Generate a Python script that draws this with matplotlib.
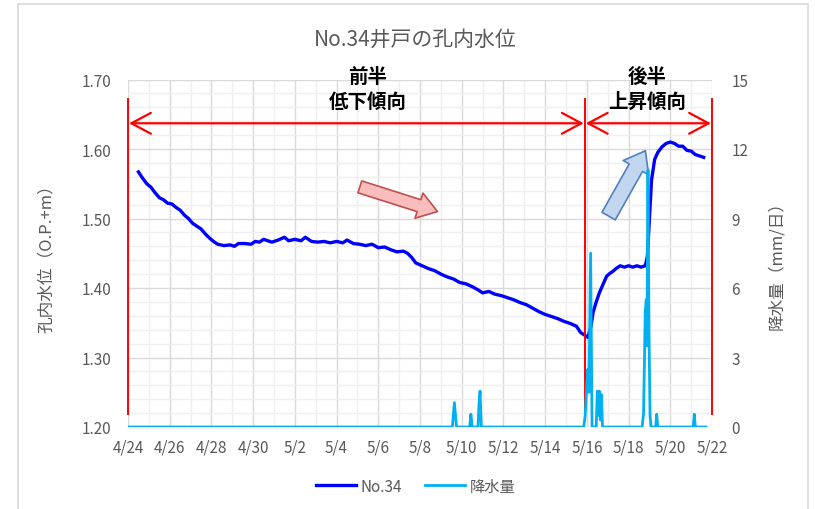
import matplotlib
matplotlib.use("Agg")
import matplotlib.pyplot as plt
from matplotlib.patches import FancyArrowPatch, Rectangle
from matplotlib.ticker import MultipleLocator

plt.rcParams['font.family'] = ['Noto Sans CJK JP', 'DejaVu Sans']

# x軸: 4/24 からの経過日数
tick_days = list(range(0, 29, 2))
tick_labels = ['4/24', '4/26', '4/28', '4/30', '5/2', '5/4', '5/6', '5/8',
               '5/10', '5/12', '5/14', '5/16', '5/18', '5/20', '5/22']

# 孔内水位 No.34 (O.P.+m)
level_days = [0.5, 0.7, 0.9, 1.1, 1.3, 1.5, 1.7, 1.9, 2.1, 2.3, 2.5, 2.7, 2.9,
              3.1, 3.3, 3.5, 3.7, 3.9, 4.1, 4.3, 4.6, 4.9, 5.1, 5.3, 5.6, 5.9,
              6.1, 6.3, 6.5, 6.7, 6.9, 7.2, 7.5, 7.7, 8.0, 8.3, 8.5, 8.8, 9.1,
              9.4, 9.7, 10.0, 10.3, 10.5, 10.8, 11.1, 11.4, 11.7, 12.0, 12.3,
              12.6, 12.9, 13.2, 13.4, 13.6, 13.8, 14.1, 14.4, 14.7, 15.0, 15.3,
              15.6, 15.9, 16.2, 16.5, 16.8, 17.0, 17.3, 17.6, 17.9, 18.2, 18.5,
              18.8, 19.1, 19.4, 19.7, 20.0, 20.3, 20.6, 20.9, 21.2, 21.5, 21.7,
              21.9, 22.05, 22.2, 22.3, 22.45, 22.6, 22.8, 22.95, 23.1, 23.25,
              23.4, 23.6, 23.8, 24.0, 24.2, 24.4, 24.6, 24.8, 24.9, 25.0, 25.1,
              25.25, 25.4, 25.6, 25.8, 26.0, 26.2, 26.4, 26.6, 26.8, 27.0, 27.2,
              27.4, 27.6]
level = [1.567, 1.558, 1.550, 1.545, 1.537, 1.530, 1.527, 1.522, 1.521, 1.516,
         1.512, 1.505, 1.500, 1.493, 1.489, 1.485, 1.478, 1.472, 1.467, 1.463,
         1.461, 1.462, 1.460, 1.464, 1.464, 1.463, 1.467, 1.466, 1.470, 1.468,
         1.466, 1.469, 1.473, 1.468, 1.470, 1.468, 1.473, 1.467, 1.466, 1.467,
         1.465, 1.467, 1.465, 1.469, 1.464, 1.463, 1.461, 1.463, 1.458, 1.459,
         1.455, 1.452, 1.453, 1.450, 1.444, 1.436, 1.432, 1.428, 1.425, 1.420,
         1.416, 1.413, 1.408, 1.406, 1.402, 1.397, 1.393, 1.395, 1.391, 1.389,
         1.386, 1.383, 1.379, 1.376, 1.371, 1.366, 1.362, 1.359, 1.356, 1.352,
         1.349, 1.345, 1.336, 1.332, 1.329, 1.345, 1.365, 1.380, 1.393, 1.407,
         1.417, 1.421, 1.424, 1.428, 1.432, 1.430, 1.432, 1.430, 1.432, 1.430,
         1.432, 1.445, 1.500, 1.555, 1.585, 1.595, 1.603, 1.608, 1.610, 1.608,
         1.604, 1.604, 1.598, 1.597, 1.592, 1.590, 1.588]

# 降水量 (mm/日)
rain_days = [0, 15.55, 15.65, 15.75, 16.38, 16.44, 16.5, 16.78, 16.83, 16.88,
             16.94, 21.85, 21.92, 22.0, 22.05, 22.1, 22.18, 22.25, 22.45, 22.5,
             22.55, 22.6, 22.65, 22.7, 22.75, 24.65, 24.72, 24.8, 24.85, 24.88,
             24.93, 24.98, 25.03, 25.08, 25.3, 25.35, 25.4, 27.1, 27.15, 27.2,
             27.7]
rain = [0, 0, 1.05, 0, 0, 0.55, 0, 0, 1.0, 1.55, 0, 0, 0.5, 1.9, 2.5, 1.5, 7.5,
        0, 0, 1.55, 0.5, 1.55, 0.3, 1.4, 0, 0, 0.6, 5.0, 5.5, 3.5, 11.1, 4.0,
        0.5, 0, 0, 0.55, 0, 0, 0.55, 0, 0]

gray = '#595959'
fig = plt.figure(figsize=(8.15, 5.10), dpi=100)
fig.patches.append(Rectangle((18 / 815, -0.01), 790 / 815, 1 - 5 / 510 + 0.01,
                             transform=fig.transFigure, fill=False,
                             edgecolor='#D9D9D9', lw=1.2))

ax = fig.add_axes([128 / 815, 1 - 428 / 510, 584 / 815, 347.5 / 510])
ax.set_xlim(0, 28)
ax.set_ylim(1.20, 1.70)
ax.set_xticks(tick_days)
ax.set_xticklabels(tick_labels)
ax.xaxis.set_minor_locator(MultipleLocator(1))
ax.yaxis.set_major_locator(MultipleLocator(0.1))
ax.yaxis.set_minor_locator(MultipleLocator(0.02))
ax.yaxis.set_major_formatter(plt.FormatStrFormatter('%.2f'))
ax.grid(which='major', color='#D9D9D9', lw=1.0)
ax.grid(which='minor', color='#EFEFEF', lw=1.0)
ax.set_axisbelow(True)
ax.tick_params(which='both', length=0, colors=gray, labelsize=11)
ax.tick_params(axis='x', pad=8)
ax.tick_params(axis='y', pad=12)
for s in ax.spines.values():
    s.set_visible(False)

line1, = ax.plot(level_days, level, color='#0000FF', lw=2.4, label='No.34')
ax.set_ylabel('孔内水位（O.P.+m）', color=gray, fontsize=12)
ax.yaxis.set_label_coords(-0.125, 0.5)

# 前半・後半の区切り
for d in [0, 21.9, 28]:
    ax.plot([d, d], [1.219, 1.672], color='#FF0000', lw=1.4, clip_on=False)
for a, b in [(0.05, 21.85), (21.95, 27.95)]:
    ax.annotate('', xy=(a, 1.637), xytext=(b, 1.637),
                arrowprops=dict(arrowstyle='<->,head_length=1.4,head_width=0.75',
                                mutation_scale=10, color='#FF0000', lw=1.6,
                                shrinkA=0, shrinkB=0), annotation_clip=False)
ax.text(11.5, 1.705, '前半', ha='center', va='center', fontsize=14,
        fontweight='bold', clip_on=False)
ax.text(11.5, 1.669, '低下傾向', ha='center', va='center', fontsize=14,
        fontweight='bold', clip_on=False)
ax.text(24.9, 1.705, '後半', ha='center', va='center', fontsize=14,
        fontweight='bold', clip_on=False)
ax.text(24.9, 1.669, '上昇傾向', ha='center', va='center', fontsize=14,
        fontweight='bold', clip_on=False)

ax2 = ax.twinx()
ax2.set_ylim(0, 15)
ax2.yaxis.set_major_locator(MultipleLocator(3))
ax2.tick_params(length=0, colors=gray, labelsize=11, pad=14)
for s in ax2.spines.values():
    s.set_visible(False)
line2, = ax2.plot(rain_days, rain, color='#00B0F0', lw=2.0, label='降水量')
ax2.set_ylabel('降水量（mm/日）', color=gray, fontsize=12)
ax2.yaxis.set_label_coords(1.096, 0.48)

# 傾向を示す矢印
ax2.add_patch(FancyArrowPatch((0.397, 0.691), (0.53, 0.62),
                              transform=ax2.transAxes,
                              arrowstyle='simple,head_length=1.4,head_width=1.9,tail_width=0.9',
                              mutation_scale=10, facecolor='#F9BDBD',
                              edgecolor='#C0504D', lw=1.2, shrinkA=0, shrinkB=0))
ax2.add_patch(FancyArrowPatch((0.823, 0.607), (0.886, 0.795),
                              transform=ax2.transAxes,
                              arrowstyle='simple,head_length=1.4,head_width=2.1,tail_width=1.1',
                              mutation_scale=10, facecolor='#C3D6EF',
                              edgecolor='#4F81BD', lw=1.2, shrinkA=0, shrinkB=0))

fig.text(0.509, 1 - 40 / 510, 'No.34井戸の孔内水位', ha='center', va='center',
         fontsize=15, color=gray)
fig.legend(handles=[line1, line2], loc='center', bbox_to_anchor=(0.51, 0.045),
           ncol=2, frameon=False, fontsize=11, labelcolor=gray,
           handlelength=2.6, columnspacing=1.5, handletextpad=0.3)

fig.savefig('out.png', dpi=100)
